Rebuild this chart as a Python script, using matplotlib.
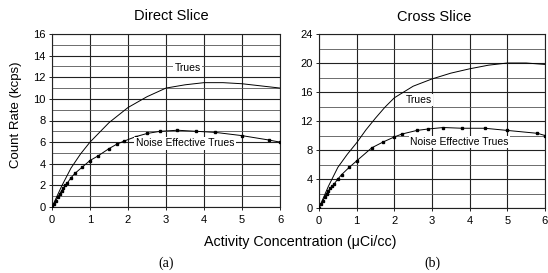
import matplotlib
matplotlib.use("Agg")
import matplotlib.pyplot as plt
import numpy as np

plt.rcParams['font.family'] = ['Liberation Sans', 'DejaVu Sans']

# Direct slice
d_trues_x = [0, 0.25, 0.5, 0.75, 1.0, 1.5, 2.0, 2.5, 3.0, 3.5, 4.0, 4.5, 5.0, 5.5, 6.0]
d_trues_y = [0, 1.9, 3.6, 4.9, 6.0, 7.8, 9.2, 10.2, 11.0, 11.3, 11.5, 11.5, 11.4, 11.2, 11.0]
d_net_x = [0, 0.05, 0.1, 0.15, 0.2, 0.25, 0.3, 0.35, 0.4, 0.5, 0.6, 0.8, 1.0, 1.2, 1.5, 1.7, 1.9, 2.2, 2.5, 2.85, 3.3, 3.8, 4.3, 5.0, 5.7, 6.0]
d_net_y = [0, 0.3, 0.6, 0.9, 1.2, 1.5, 1.75, 2.0, 2.2, 2.7, 3.1, 3.7, 4.3, 4.7, 5.4, 5.8, 6.1, 6.5, 6.8, 7.0, 7.1, 7.0, 6.9, 6.6, 6.2, 6.0]

# Cross slice
c_trues_x = [0, 0.25, 0.5, 0.75, 1.0, 1.25, 1.5, 1.75, 2.0, 2.5, 3.0, 3.5, 4.0, 4.5, 5.0, 5.5, 6.0]
c_trues_y = [0, 3.0, 5.6, 7.4, 9.0, 10.8, 12.4, 13.9, 15.2, 16.8, 17.8, 18.6, 19.2, 19.7, 20.0, 20.0, 19.8]
c_net_x = [0, 0.05, 0.1, 0.15, 0.2, 0.25, 0.3, 0.35, 0.4, 0.5, 0.6, 0.8, 1.0, 1.4, 1.7, 2.0, 2.2, 2.6, 2.9, 3.3, 3.8, 4.4, 5.0, 5.8, 6.0]
c_net_y = [0, 0.5, 1.0, 1.5, 2.0, 2.4, 2.7, 3.0, 3.3, 4.0, 4.6, 5.6, 6.5, 8.3, 9.1, 9.8, 10.2, 10.7, 10.9, 11.1, 11.0, 11.0, 10.7, 10.3, 10.0]

fig = plt.figure(figsize=(5.48, 2.73), dpi=100)
W, H = 548, 273
axL = fig.add_axes([52 / W, 1 - 207 / H, (280 - 52) / W, (207 - 34) / H])
axR = fig.add_axes([319 / W, 1 - 208 / H, (545 - 319) / W, (208 - 34) / H])

def style(ax, ymax, ymajor, yminor):
    ax.set_xlim(0, 6)
    ax.set_ylim(0, ymax)
    ax.set_xticks(range(0, 7))
    ax.set_yticks(np.arange(0, ymax + 0.1, ymajor))
    ax.set_yticks(np.arange(0, ymax + 0.1, yminor), minor=True)
    ax.grid(True, which='major', color='#222222', lw=0.8)
    ax.grid(True, which='minor', axis='y', color='#555555', lw=0.6)
    ax.tick_params(labelsize=8, length=2.5, width=0.6, pad=2)
    ax.tick_params(axis='x', pad=3)
    ax.tick_params(which='minor', length=0)
    for s in ax.spines.values():
        s.set_linewidth(0.8)
        s.set_color('#222222')
    ax.set_axisbelow(True)

style(axL, 16, 2, 1)
style(axR, 24, 4, 2)

for ax, tx, ty, nx, ny in [(axL, d_trues_x, d_trues_y, d_net_x, d_net_y),
                           (axR, c_trues_x, c_trues_y, c_net_x, c_net_y)]:
    ax.plot(tx, ty, color='black', lw=0.7, zorder=3)
    ax.plot(nx, ny, color='black', lw=0.7, marker='s', ms=2.0, zorder=3)

bbox = dict(facecolor='white', edgecolor='none', pad=1)
axL.text(3.57, 12.9, 'Trues', fontsize=7.5, ha='center', va='center', bbox=bbox, zorder=4)
axL.text(3.5, 5.9, 'Noise Effective Trues', fontsize=7.5, ha='center', va='center', bbox=bbox, zorder=4)
axR.text(2.65, 14.9, 'Trues', fontsize=7.5, ha='center', va='center', bbox=bbox, zorder=4)
axR.text(3.72, 9.1, 'Noise Effective Trues', fontsize=7.5, ha='center', va='center', bbox=bbox, zorder=4)

fig.text(171 / W, 1 - 16 / H, 'Direct Slice', fontsize=10.5, ha='center', va='center')
fig.text(434 / W, 1 - 17 / H, 'Cross Slice', fontsize=10.5, ha='center', va='center')
fig.text(16 / W, 1 - 115 / H, 'Count Rate (kcps)', fontsize=9.5, ha='center', va='center', rotation=90)
fig.text(300 / W, 1 - 242 / H, 'Activity Concentration (\u03bcCi/cc)', fontsize=10.3, ha='center', va='center')
fig.text(166 / W, 1 - 263 / H, '(a)', fontsize=10, ha='center', va='center', family='Liberation Serif')
fig.text(432 / W, 1 - 263 / H, '(b)', fontsize=10, ha='center', va='center', family='Liberation Serif')

fig.savefig('out.png', dpi=100)
